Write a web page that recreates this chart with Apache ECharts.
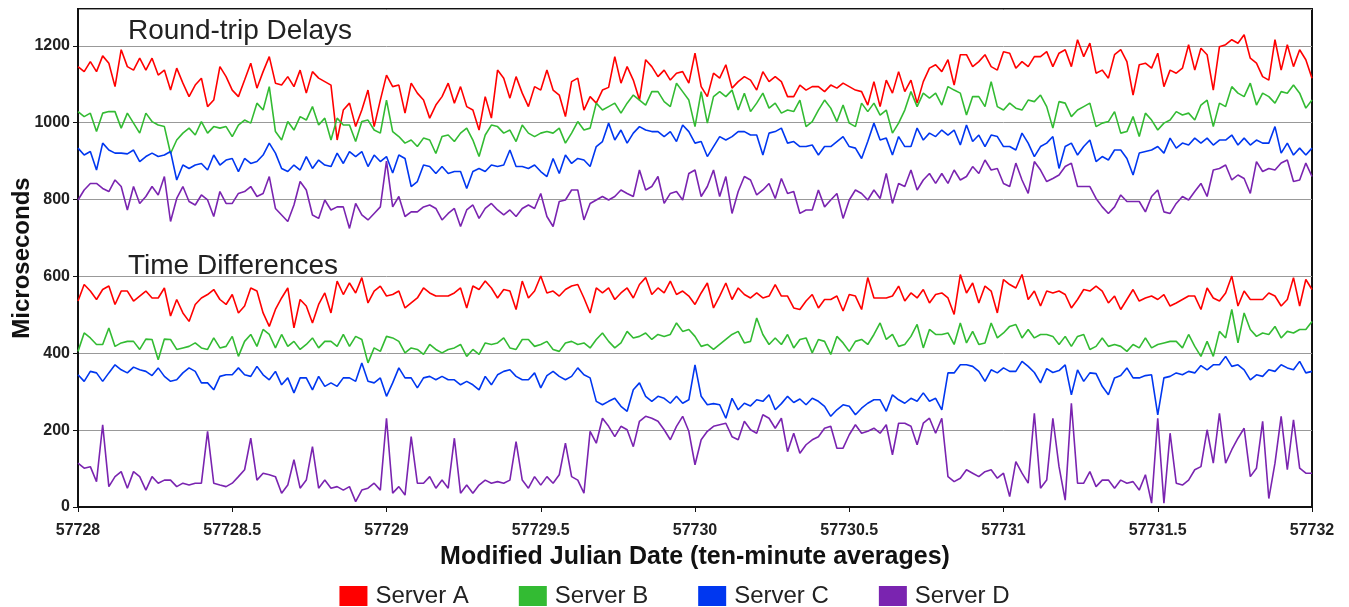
<!DOCTYPE html>
<html lang="en">
<head>
    <meta charset="UTF-8">
    <title>Round-trip Delays / Time Differences</title>
    <script src="https://cdn.jsdelivr.net/npm/echarts@6/dist/echarts.min.js"></script>
    <style>
        html, body { margin: 0; padding: 0; background: #fff; }
    </style>
</head>
<body>
    <div id="main" style="width: 1349px;height:607px;"></div>
    <script type="text/javascript">
        // sample times: MJD start and spacing of the values
        var mjdStart = 57728;
        var mjdStep = 0.02;

        var servers = ['Server A', 'Server B', 'Server C', 'Server D'];
        var colors = ['#ff0000', '#33bb33', '#0037f0', '#7a24b0'];
        var xTicks = [57728, 57728.5, 57729, 57729.5, 57730, 57730.5, 57731, 57731.5, 57732];
        var yTicks = [0, 200, 400, 600, 800, 1000, 1200];

        // round-trip delays (microseconds)
        var rtdA = [1146,1133,1159,1133,1174,1155,1094,1190,1146,1137,1168,1137,1168,1124,1137,1085,1142,1103,1068,1098,1116,1042,1059,1146,1120,1085,1068,1111,1155,1090,1133,1172,1103,1098,1120,1094,1137,1077,1133,1116,1107,1098,955,1033,1051,990,1033,1085,990,1059,1124,
            1094,1098,1025,1103,1077,1059,1012,1046,1068,1103,1051,1094,1042,1033,981,1068,1012,1137,1116,1064,1120,1077,1042,1094,1085,1137,1085,1072,1016,1107,1116,1033,1068,1051,1085,1092,1172,1103,1146,1111,1059,1164,1146,1120,1137,1111,1129,1133,1103,1181,
            1094,1068,1129,1116,1151,1090,1107,1120,1111,1085,1133,1107,1120,1107,1068,1068,1098,1085,1094,1094,1081,1098,1090,1103,1094,1085,1081,1046,1107,1042,1111,1077,1133,1081,1111,1051,1107,1142,1151,1133,1164,1098,1177,1177,1146,1159,1177,1146,1137,1185,
            1181,1142,1159,1146,1172,1172,1185,1146,1181,1190,1146,1216,1172,1207,1129,1137,1116,1177,1190,1159,1072,1151,1155,1142,1181,1094,1137,1129,1142,1203,1137,1194,1177,1085,1198,1203,1216,1207,1229,1168,1155,1120,1111,1216,1137,1203,1146,1190,1164,1116];
        var rtdB = [1029,1016,1025,977,1025,1029,1029,986,1025,999,973,1025,1003,994,990,920,955,973,986,968,1003,973,990,986,990,964,994,1007,999,1051,1033,1094,977,955,1003,981,1016,1007,1042,994,1012,955,1012,994,994,951,1003,1007,981,973,1059,
            977,964,947,955,938,960,955,920,964,968,951,973,986,955,912,968,994,990,973,981,951,994,973,964,973,977,973,986,947,973,1003,981,986,1051,1033,1042,1051,1025,1051,1072,1059,1046,1081,1081,1055,1042,1103,1081,1059,990,
            1081,999,1068,1081,1068,1085,1033,1077,1029,1051,1077,1038,1051,1025,1033,1029,1059,990,1003,1033,1059,1038,1003,1046,999,990,1051,1029,1051,1020,1033,973,999,1033,1081,1042,1077,1064,1077,1046,1094,1085,1077,1020,1068,1068,1042,1107,1042,1033,
            1051,1038,1033,1059,1055,1072,1042,986,1055,1051,1016,1033,1042,1051,990,999,1003,1029,973,977,1016,964,1025,1007,981,999,1007,1029,1020,1025,1007,1046,1059,990,1051,1042,1094,1077,1068,1103,1046,1077,1068,1051,1081,1077,1098,1077,1038,1059];
        var rtdC = [934,916,925,877,947,929,921,921,919,929,899,912,921,912,916,925,851,890,881,890,894,877,916,890,903,907,873,907,894,899,916,947,921,881,873,890,877,912,881,903,890,886,921,894,925,912,925,886,916,899,912,
            869,916,907,834,847,890,886,868,886,868,873,873,829,873,881,873,890,886,890,929,886,886,881,890,873,860,907,868,916,894,907,903,886,938,951,999,955,981,947,973,990,981,977,977,964,977,951,994,977,947,
            951,912,938,964,955,964,977,977,968,968,916,973,977,986,947,951,938,938,942,916,938,938,951,964,938,934,907,951,999,955,960,916,964,938,938,986,955,973,964,981,968,981,942,994,951,968,938,968,964,938,
            938,929,973,947,912,938,947,964,881,938,947,916,938,955,899,912,903,929,929,907,864,921,925,929,938,921,960,934,947,942,960,947,960,942,955,955,968,942,960,942,955,947,947,990,921,947,916,934,916,934];
        var rtdD = [799,825,842,842,829,821,851,834,773,834,790,808,834,812,860,743,803,834,795,786,812,799,756,821,790,790,816,821,834,808,816,860,777,760,743,786,847,825,760,751,799,773,781,781,725,790,760,747,764,781,900,
            781,808,756,768,768,781,786,777,747,764,777,730,773,786,751,777,790,773,760,773,756,777,786,777,816,756,730,795,799,825,825,747,790,799,808,799,808,825,816,808,877,825,834,860,790,816,821,799,868,877,
            808,834,877,808,860,764,821,860,851,812,825,842,803,855,816,821,764,773,773,825,781,799,816,751,799,825,816,799,825,803,868,790,842,834,877,825,851,868,842,868,842,877,851,860,886,868,903,877,881,842,
            834,895,851,816,899,877,847,855,864,886,895,834,834,834,803,781,764,781,812,795,795,795,768,808,825,768,764,790,808,799,821,842,808,877,881,890,851,864,855,816,899,873,881,877,895,903,847,851,895,860];

        // time differences (microseconds)
        var tdA = [536,579,562,540,566,575,527,562,562,536,549,562,544,544,570,497,540,505,483,527,544,553,566,540,527,553,505,523,570,562,505,470,514,544,570,466,540,523,479,527,557,505,588,553,583,557,597,531,562,575,549,
            553,562,518,531,544,570,557,549,549,549,557,570,518,575,566,588,570,544,566,562,514,588,544,562,601,557,562,549,566,575,579,544,505,570,557,570,540,557,570,544,579,597,553,570,557,588,553,562,549,527,
            557,583,518,549,583,540,570,553,544,557,544,549,579,549,549,518,514,536,553,518,540,540,549,510,553,549,514,597,544,544,544,549,575,536,557,544,566,531,553,557,544,501,605,557,583,531,575,562,505,592,
            579,570,605,540,562,523,562,557,562,553,518,540,566,562,575,562,531,549,514,540,566,536,544,549,540,553,523,531,540,549,549,514,570,544,536,557,601,523,562,540,540,540,557,549,523,540,597,523,592,566];
        var tdB = [405,453,440,423,423,466,418,427,431,431,410,437,436,383,437,436,410,414,418,427,414,410,440,414,418,444,392,431,449,418,462,449,414,449,418,431,410,423,440,414,431,431,418,449,418,444,436,375,414,405,444,
            440,431,401,414,410,397,423,410,401,410,414,423,392,410,397,427,423,427,440,414,410,436,436,418,423,431,410,405,427,431,423,427,414,436,453,431,414,427,457,440,444,453,436,449,444,449,479,457,462,444,
            418,423,410,423,436,449,457,427,431,492,449,423,440,423,449,414,436,440,401,436,431,397,444,427,405,431,436,423,449,479,436,449,418,423,444,475,414,462,449,449,453,423,479,427,457,423,427,479,440,453,
            470,475,440,462,440,449,449,444,423,444,418,444,449,410,418,440,418,423,418,405,423,414,440,414,423,427,431,431,414,449,418,392,431,392,457,440,514,427,505,462,444,453,449,470,440,457,453,462,462,483];
        var tdC = [344,327,353,349,327,349,370,357,349,364,357,353,342,362,340,327,331,349,362,353,323,323,305,340,344,344,362,344,340,366,344,331,353,318,336,297,336,336,305,340,314,323,314,336,336,327,375,327,323,336,288,
            323,362,336,336,310,336,340,331,340,331,331,318,327,318,305,340,318,344,353,357,340,331,331,349,310,342,353,340,331,340,362,344,336,275,266,275,283,262,249,305,323,288,275,288,283,270,288,270,279,370,
            288,266,269,266,231,283,253,270,263,279,275,292,253,269,288,272,281,266,283,275,262,236,253,266,262,240,257,270,279,279,249,292,279,270,283,275,297,275,283,253,349,349,370,370,366,353,327,357,349,362,
            353,353,379,366,350,323,360,350,355,370,292,357,327,349,347,314,292,336,342,362,336,336,342,344,240,336,340,349,344,353,349,368,357,370,370,392,366,370,357,331,344,340,357,353,370,362,357,379,349,353];
        var tdD = [114,101,105,66,214,53,79,92,49,92,79,44,79,62,70,70,53,62,57,62,62,197,62,57,53,62,79,97,179,70,88,84,79,36,57,123,49,70,157,49,70,49,53,44,53,14,44,49,62,44,231,
            36,53,31,183,62,62,79,49,70,49,179,36,57,36,57,70,62,66,62,70,170,70,49,79,57,79,62,84,166,79,70,36,197,166,231,210,183,210,201,157,223,236,231,223,201,175,210,236,197,110,
            175,197,210,214,218,183,175,223,201,192,240,231,205,231,144,192,140,162,175,183,205,210,153,153,188,214,192,197,205,192,214,136,218,218,210,162,218,231,192,231,79,66,75,97,88,79,92,97,75,88,
            27,118,88,62,244,49,70,231,105,18,270,62,62,92,53,70,70,49,70,62,66,44,84,10,231,10,192,62,57,70,97,105,201,114,244,114,149,179,205,79,101,223,22,114,236,97,227,101,88,88];

        var rtd = [rtdA, rtdB, rtdC, rtdD];
        var td = [tdA, tdB, tdC, tdD];

        function toPairs(values) {
            var out = [];
            for (var i = 0; i < values.length; i++) {
                out.push([+(mjdStart + i * mjdStep).toFixed(2), values[i]]);
            }
            return out;
        }

        var series = [];
        [td, rtd].forEach(function (group) {
            for (var s = 0; s < servers.length; s++) {
                series.push({
                    name: servers[s],
                    type: 'line',
                    data: toPairs(group[s]),
                    showSymbol: false,
                    symbol: 'none',
                    lineStyle: { color: colors[s], width: 1.6 },
                    itemStyle: { color: colors[s] },
                    emphasis: { disabled: true }
                });
            }
        });

        var font = 'Liberation Sans, Arial, sans-serif';
        var myChart = echarts.init(document.getElementById('main'));
        var option = {
            animation: false,
            backgroundColor: '#fff',
            textStyle: { fontFamily: font },
            grid: {
                left: 78, right: 37, top: 9, bottom: 100,
                outerBoundsMode: 'none',
                containLabel: false,
                show: true, borderColor: '#111', borderWidth: 2, backgroundColor: '#fff'
            },
            legend: {
                data: servers,
                bottom: -6,
                left: 'center',
                icon: 'rect',
                itemWidth: 28,
                itemHeight: 20,
                itemGap: 50,
                textStyle: { fontSize: 24, color: '#222', padding: [0, 0, 0, 3] }
            },
            graphic: [
                { type: 'text', left: 128, top: 17, style: { text: 'Round-trip Delays', fontSize: 28, fill: '#222', fontFamily: font } },
                { type: 'text', left: 128, top: 252, style: { text: 'Time Differences', fontSize: 28, fill: '#222', fontFamily: font } }
            ],
            xAxis: {
                type: 'value',
                min: xTicks[0],
                max: xTicks[xTicks.length - 1],
                interval: 0.5,
                name: 'Modified Julian Date (ten-minute averages)',
                nameLocation: 'middle',
                nameGap: 38,
                nameMoveOverlap: false,
                nameTextStyle: { fontSize: 25, fontWeight: 'bold', color: '#111' },
                axisLine: { lineStyle: { color: '#111', width: 2 } },
                axisTick: { show: true, length: 5, lineStyle: { color: '#111' } },
                axisLabel: {
                    fontSize: 16, fontWeight: 'bold', color: '#222', margin: 16,
                    formatter: function (v) { return String(v); }
                },
                splitLine: { show: false }
            },
            yAxis: {
                type: 'value',
                min: yTicks[0],
                max: 1296,
                interval: 200,
                name: 'Microseconds',
                nameLocation: 'middle',
                nameGap: 44,
                nameMoveOverlap: false,
                nameTextStyle: { fontSize: 24, fontWeight: 'bold', color: '#111' },
                axisLine: { show: true, lineStyle: { color: '#111', width: 2 } },
                axisTick: { show: true, length: 5, lineStyle: { color: '#111' } },
                axisLabel: {
                    fontSize: 16, fontWeight: 'bold', color: '#222', margin: 8, showMaxLabel: false,
                    formatter: function (v) { return String(v); }
                },
                splitLine: { show: true, lineStyle: { color: '#999', width: 1 } }
            },
            series: series
        };
        myChart.setOption(option);
    </script>
</body>
</html>
